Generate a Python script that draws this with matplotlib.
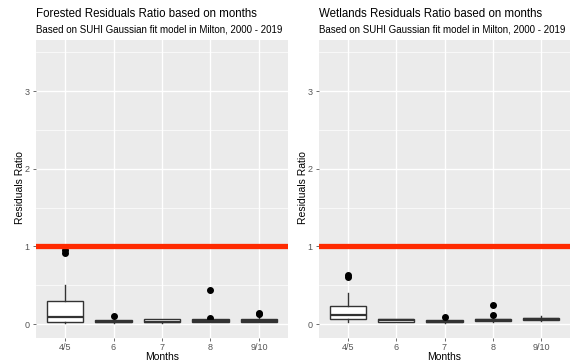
import numpy as np
import matplotlib
matplotlib.use('Agg')
import matplotlib.pyplot as plt

plt.rcParams['font.family'] = ['Liberation Sans', 'DejaVu Sans']

months = ['4/5', '6', '7', '8', '9/10']

# Forested residual ratio box stats
for_q1 = [0.03, 0.02, 0.02, 0.03, 0.03]
for_med = [0.09, 0.03, 0.03, 0.04, 0.04]
for_q3 = [0.30, 0.05, 0.06, 0.06, 0.07]
for_lo = [0.01, 0.01, 0.01, 0.02, 0.02]
for_hi = [0.50, 0.06, 0.07, 0.08, 0.09]
for_out = [[0.91, 0.95], [0.10], [], [0.08, 0.435], [0.125, 0.14]]

# Wetlands residual ratio box stats
wet_q1 = [0.06, 0.03, 0.02, 0.04, 0.05]
wet_med = [0.11, 0.05, 0.03, 0.05, 0.06]
wet_q3 = [0.23, 0.06, 0.05, 0.07, 0.08]
wet_lo = [0.03, 0.02, 0.01, 0.03, 0.04]
wet_hi = [0.40, 0.07, 0.06, 0.08, 0.10]
wet_out = [[0.60, 0.63], [], [0.087], [0.11, 0.24], []]

titles = ['Forested Residuals Ratio based on months',
          'Wetlands Residuals Ratio based on months']
subtitle = 'Based on SUHI Gaussian fit model in Milton, 2000 - 2019'

W, H = 570, 362
fig = plt.figure(figsize=(W / 100, H / 100), dpi=100)

panels = [
    (36, 288, for_q1, for_med, for_q3, for_lo, for_hi, for_out, 20),
    (319, 570, wet_q1, wet_med, wet_q3, wet_lo, wet_hi, wet_out, 303),
]

for k, (x0, x1, q1, med, q3, lo, hi, outl, ylx) in enumerate(panels):
    ax = fig.add_axes([x0 / W, (H - 338) / H, (x1 - x0) / W, (338 - 40) / H])
    ax.set_facecolor('#EBEBEB')
    for s in ax.spines.values():
        s.set_visible(False)

    stats = []
    for i in range(len(months)):
        stats.append({'q1': q1[i], 'med': med[i], 'q3': q3[i],
                      'whislo': lo[i], 'whishi': hi[i], 'fliers': outl[i]})
    pos = np.arange(1, len(months) + 1)

    # grid
    for y in [0.5, 1.5, 2.5, 3.5]:
        ax.axhline(y, color='white', lw=0.5, zorder=0)
    for y in [0, 1, 2, 3]:
        ax.axhline(y, color='white', lw=1.0, zorder=0)
    for x in pos:
        ax.axvline(x, color='white', lw=1.0, zorder=0)

    ax.bxp(stats, positions=pos, widths=0.75, patch_artist=True, showcaps=False,
           boxprops=dict(facecolor='white', edgecolor='#333333', lw=1.0),
           medianprops=dict(color='#333333', lw=1.6),
           whiskerprops=dict(color='#333333', lw=1.0),
           flierprops=dict(marker='o', markerfacecolor='black', markeredgecolor='black',
                           markersize=4),
           zorder=2)

    ax.axhline(1, color='#FF2A00', lw=3.8, zorder=3)

    ax.set_xlim(0.4, 5.6)
    ax.set_ylim(-0.18, 3.66)
    ax.set_xticks(pos)
    ax.set_xticklabels(months)
    ax.set_yticks([0, 1, 2, 3])
    ax.set_yticklabels(['0', '1', '2', '3'])
    ax.tick_params(axis='both', colors='#555555', labelsize=6.5, length=2.5, width=0.6,
                   pad=2)
    ax.tick_params(axis='x', pad=1)

    fig.text(x0 / W, 1 - 14 / H, titles[k], fontsize=8.3, va='center', ha='left')
    fig.text(x0 / W, 1 - 29 / H, subtitle, fontsize=7.0, va='center', ha='left')
    fig.text(ylx / W, 1 - 188 / H, 'Residuals Ratio', fontsize=7.5, rotation=90,
             va='center', ha='center')
    fig.text((x0 + x1) / 2 / W, 1 - 357.5 / H, 'Months', fontsize=7.5, va='center',
             ha='center')

fig.savefig('out.png', dpi=100)
